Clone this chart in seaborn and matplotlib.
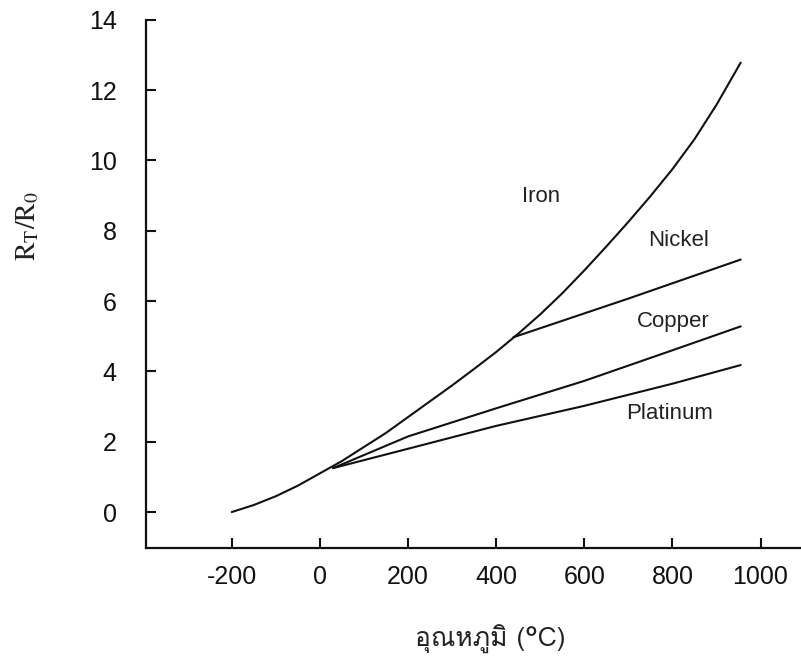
import numpy as np
import pandas as pd
import seaborn as sns
import matplotlib
matplotlib.use('Agg')
import matplotlib.pyplot as plt
from matplotlib import font_manager, ft2font

# ค่าที่อ่านจากกราฟ (อุณหภูมิ °C, R_T/R_0)
t_iron = [-200, -150, -100, -50, 0, 50, 100, 150, 200, 250, 300, 350, 400,
          450, 500, 550, 600, 650, 700, 750, 800, 850, 900, 955]
r_iron = [0.0, 0.2, 0.45, 0.75, 1.1, 1.45, 1.85, 2.25, 2.7, 3.15, 3.6, 4.07, 4.55,
          5.07, 5.62, 6.22, 6.87, 7.55, 8.25, 8.98, 9.75, 10.6, 11.58, 12.78]

t_nickel = [439, 700, 955]
r_nickel = [4.97, 6.07, 7.18]

t_copper = [30, 200, 400, 600, 800, 955]
r_copper = [1.25, 2.15, 2.95, 3.73, 4.6, 5.28]

t_platinum = [30, 200, 400, 600, 800, 955]
r_platinum = [1.25, 1.8, 2.45, 3.02, 3.65, 4.18]

labels = ['Iron', 'Nickel', 'Copper', 'Platinum']
label_t = [502, 814, 802, 793]
label_r = [8.98, 7.73, 5.43, 2.81]

x_ticks = [-200, 0, 200, 400, 600, 800, 1000]
y_ticks = [0, 2, 4, 6, 8, 10, 12, 14]


def find_thai_font():
    # หาฟอนต์ที่มีอักษรไทย
    for f in font_manager.fontManager.ttflist:
        try:
            cmap = ft2font.FT2Font(f.fname).get_charmap()
        except Exception:
            continue
        if 0x0E2D in cmap and 0x0E21 in cmap and 0x0E38 in cmap:
            return f.name
    return 'DejaVu Sans'


sns.set_style('white')
plt.rcParams['font.family'] = ['Liberation Sans', 'DejaVu Sans']
plt.rcParams['mathtext.fontset'] = 'stix'
plt.rcParams['axes.unicode_minus'] = False
plt.rcParams['xtick.direction'] = 'in'
plt.rcParams['ytick.direction'] = 'in'

dados = pd.concat([
    pd.DataFrame({'T': t_iron, 'R': r_iron, 'metal': 'Iron'}),
    pd.DataFrame({'T': t_nickel, 'R': r_nickel, 'metal': 'Nickel'}),
    pd.DataFrame({'T': t_copper, 'R': r_copper, 'metal': 'Copper'}),
    pd.DataFrame({'T': t_platinum, 'R': r_platinum, 'metal': 'Platinum'}),
])

fig = plt.figure(figsize=(8.01, 6.57), dpi=100)
ax = fig.add_axes([0.182, 0.166, 0.817, 0.804])

sns.lineplot(data=dados, x='T', y='R', units='metal', estimator=None,
             color='#111111', linewidth=1.5, sort=False, ax=ax)

for nome, tx, ry in zip(labels, label_t, label_r):
    ax.text(tx, ry, nome, fontsize=16, ha='center', va='center', color='#222222')

ax.set_xlim(-395, 1090)
ax.set_ylim(-1.02, 14)
ax.set_xticks(x_ticks)
ax.set_yticks(y_ticks)
ax.tick_params(axis='y', direction='in', length=7, width=1.5, labelsize=18,
               colors='#111111', left=True, pad=21)
ax.tick_params(axis='x', direction='in', length=7, width=1.5, labelsize=18,
               colors='#111111', bottom=True, pad=12)
for lado in ['top', 'right']:
    ax.spines[lado].set_visible(False)
for lado in ['left', 'bottom']:
    ax.spines[lado].set_linewidth(1.6)
    ax.spines[lado].set_color('#111111')

thai = find_thai_font()
ax.set_xlabel('อุณหภูมิ (°C)', fontsize=19, family=[thai, 'DejaVu Sans'], color='#222222')
ax.xaxis.set_label_coords(0.526, -0.145)
ax.set_ylabel(r'$\mathrm{R_T/R_0}$', fontsize=20, color='#222222')
ax.yaxis.set_label_coords(-0.16, 0.61)

plt.savefig('out.png', dpi=100)
